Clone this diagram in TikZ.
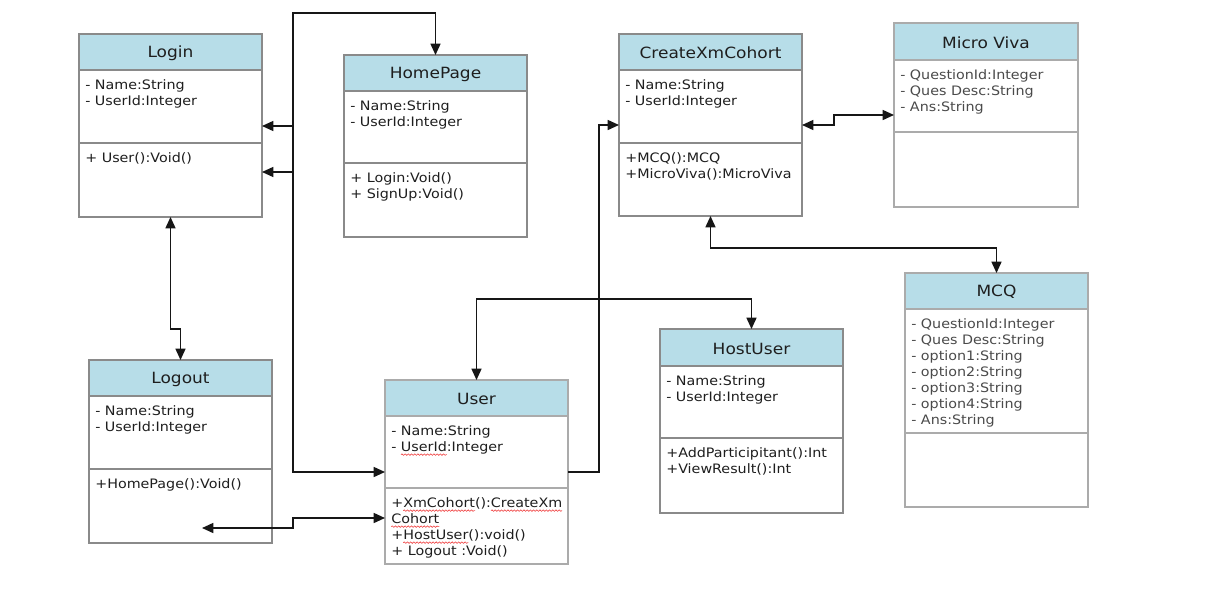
\documentclass[tikz,border=0pt]{standalone}
\usepackage{fontspec}
\setmainfont[FakeStretch=1.1]{DejaVu Sans}
\usetikzlibrary{arrows.meta,decorations.pathmorphing}

\definecolor{headblue}{HTML}{B7DDE8}
\definecolor{boxgray}{HTML}{8A8A8A}
\definecolor{lightbox}{HTML}{ABABAB}
\definecolor{ink}{HTML}{1E1E1E}
\definecolor{softink}{HTML}{4A4A4A}
\definecolor{wire}{HTML}{161616}
\definecolor{spellred}{HTML}{F04040}

% red wavy underline used for flagged words
\newsavebox\spellbox
\newcommand\spell[1]{\leavevmode\sbox\spellbox{#1}%
  \rlap{\tikz[baseline=0pt,x=1pt,y=1pt]{\useasboundingbox (0,0);
    \draw[spellred, line width=0.45pt, decorate,
          decoration={snake, amplitude=0.55pt, segment length=2.4pt}]
      (0,-2.6) -- (\the\wd\spellbox,-2.6);}}%
  \usebox\spellbox}

\tikzset{
  boxframe/.style={draw=boxgray, line width=0.8pt},
  softframe/.style={draw=lightbox, line width=1.1pt},
  classtitle/.style={font=\fontsize{11.6}{14}\selectfont, text=ink, inner sep=0pt},
  members/.style={anchor=north west, align=left, font=\fontsize{9.75}{12}\selectfont, text=ink, inner sep=0pt},
  softmembers/.style={members, text=softink},
  wire/.style={draw=wire, line width=1.1pt},
  tip/.style={-{Triangle[length=8.5pt,width=7.5pt]}},
  both/.style={{Triangle[length=8.5pt,width=7.5pt]}-{Triangle[length=8.5pt,width=7.5pt]}},
}

% #1 name  #2 left  #3 top  #4 right  #5 bottom  #6 header bottom  #7 divider  #8 frame style  #9 title
\newcommand\umlclass[9]{%
  \fill[headblue] (#2,#3) rectangle (#4,#6);
  \draw[#8] (#2,#6) -- (#4,#6) (#2,#7) -- (#4,#7);
  \node[#8, fill=none, anchor=north west, inner sep=0pt, outer sep=0pt,
        minimum width={(#4-#2)*0.75pt}, minimum height={(#5-#3)*0.75pt}] (#1) at (#2,#3) {};
  \node[classtitle] (#1-title) at ({(#2+#4)/2},{(#3+#6)/2+1}) {#9};
  \coordinate (#1-attr) at (#2+6,#6+9);
  \coordinate (#1-meth) at (#2+6,#7+9);
}

\begin{document}
\begin{tikzpicture}[x=0.75pt, y=-0.75pt]
\useasboundingbox[fill=white] (0,0) rectangle (1215,594);

% ---- classes ----
\umlclass{login}{79}{34}{262}{217}{70}{143}{boxframe}{Login}
\node[members] (login-a) at (login-attr) {- Name:String\\- UserId:Integer};
\node[members] (login-m) at (login-meth) {+ User():Void()};

\umlclass{homepage}{344}{55}{527}{237}{91}{163}{boxframe}{HomePage}
\node[members] (homepage-a) at (homepage-attr) {- Name:String\\- UserId:Integer};
\node[members] (homepage-m) at (homepage-meth) {+ Login:Void()\\+ SignUp:Void()};

\umlclass{create}{619}{34}{802}{216}{70}{143}{boxframe}{CreateXmCohort}
\node[members] (create-a) at (create-attr) {- Name:String\\- UserId:Integer};
\node[members] (create-m) at (create-meth) {+MCQ():MCQ\\+MicroViva():MicroViva};

\umlclass{microviva}{894}{23}{1078}{207}{60}{132}{softframe}{Micro Viva}
\node[softmembers] (microviva-a) at (microviva-attr) {- QuestionId:Integer\\- Ques Desc:String\\- Ans:String};

\umlclass{mcq}{905}{273}{1088}{507}{309}{433}{softframe}{MCQ}
\node[softmembers] (mcq-a) at (mcq-attr) {- QuestionId:Integer\\- Ques Desc:String\\- option1:String\\- option2:String\\- option3:String\\- option4:String\\- Ans:String};

\umlclass{hostuser}{660}{329}{843}{513}{366}{438}{boxframe}{HostUser}
\node[members] (hostuser-a) at (hostuser-attr) {- Name:String\\- UserId:Integer};
\node[members] (hostuser-m) at (hostuser-meth) {+AddParticipitant():Int\\+ViewResult():Int};

\umlclass{logout}{89}{360}{272}{543}{396}{469}{boxframe}{Logout}
\node[members] (logout-a) at (logout-attr) {- Name:String\\- UserId:Integer};
\node[members] (logout-m) at (logout-meth) {+HomePage():Void()};

\umlclass{user}{385}{380}{568}{564}{416}{488}{softframe}{User}
\node[members] (user-a) at (user-attr) {- Name:String\\- \spell{UserId}:Integer};
\node[members] (user-m) at (user-meth) {+\spell{XmCohort}():\spell{CreateXm}\\\spell{Cohort}\\+\spell{HostUser}():void()\\+ Logout :Void()};

% ---- connectors ----
\coordinate (trunk-top) at (293,13);
\coordinate (trunk-a) at (293,126);
\coordinate (trunk-b) at (293,172);
\coordinate (logout-in) at (202,528);
\coordinate (jog) at (293,518);

\draw[wire, both] (user.west) -| (trunk-top) -| (homepage.north);
\draw[wire, tip] (trunk-a) -- (login.east |- trunk-a);
\draw[wire, tip] (trunk-b) -- (login.east |- trunk-b);

\draw[wire, both] (login.south) -- ++(0,112) -| (logout.north);

\draw[wire, both] (logout-in) -| (jog) -- (user.west |- jog);

\draw[wire, tip] (user.east) -| (create.west -| 599,0) -- (create.west);

\draw[wire, both] (user.north) |- (hostuser.north |- 0,299) -- (hostuser.north);

\draw[wire, both] (create.east) -- (create.east -| 834,0) |- (microviva.west);

\draw[wire, both] (create.south) |- (mcq.north |- 0,248) -- (mcq.north);
\end{tikzpicture}
\end{document}
